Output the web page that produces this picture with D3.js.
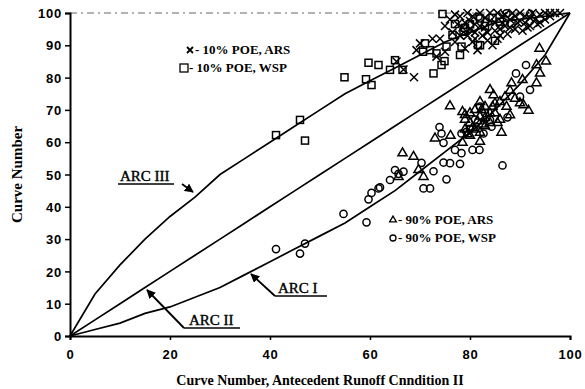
<!DOCTYPE html>
<html>
<head>
<meta charset="utf-8">
<script src="https://cdn.jsdelivr.net/npm/d3@7"></script>
<style>
  body { margin: 0; background: #fff; }
  svg { display: block; }
  .tick-label { font-family: "Liberation Sans", Arial, sans-serif; font-weight: bold; font-size: 13px; letter-spacing: 0.8px; }
  .serif { font-family: "Liberation Serif", "Times New Roman", serif; font-weight: bold; }
</style>
</head>
<body>
<div id="chart"></div>
<script>
// CN table (NEH-4): condition II -> condition I / III
const cnII  = [0, 5, 10, 15, 20, 25, 30, 35, 40, 45, 50, 55, 60, 65, 70, 75, 80, 85, 90, 95, 100];
const cnI   = [0, 2, 4, 7, 9, 12, 15, 19, 23, 27, 31, 35, 40, 45, 51, 57, 63, 70, 78, 87, 100];
const cnIII = [0, 13, 22, 30, 37, 43, 50, 55, 60, 65, 70, 75, 79, 83, 87, 91, 94, 97, 98, 99, 100];

const xTicks = [0, 20, 40, 60, 80, 100];
const yTicks = [0, 10, 20, 30, 40, 50, 60, 70, 80, 90, 100];

// 10% POE, ARS  (x markers)
const poe10ARS = [
  [65.3, 85], [66.7, 82.5], [68.8, 80.1], [70, 90.6], [69.3, 88.5], [73.3, 86.5], [74, 92], [75, 96],
  [76, 98], [77, 99.5], [78, 93], [79, 97], [80, 95], [80.5, 99], [81, 92], [82, 96], [83, 98.5],
  [83.5, 94], [84, 100], [85, 97], [86, 93], [86.5, 99], [87, 96], [88, 98], [88.5, 100], [89, 95],
  [90, 97.5], [91, 99], [92, 96], [92.5, 100], [93, 98], [94, 99.5], [95, 100], [96, 99], [97, 100],
  [79, 89], [81.5, 88.5], [84.5, 90], [77, 91], [87.5, 93.5], [90.5, 94.5], [94, 97], [82, 100],
  [85.5, 100], [75, 88], [72.5, 92], [78.5, 95.5], [80, 97.5], [83, 95.5], [86, 95], [89, 99], [91, 97],
  [76.5, 94], [77.5, 96.5], [79.5, 93], [80.5, 91], [81, 96.5], [82.5, 93], [84, 97.5], [85, 94.5],
  [86.5, 97], [87, 99.5], [88, 95.5], [89.5, 97], [90, 100], [91.5, 95.5], [92, 98.5], [93.5, 96.5],
  [95, 98], [96, 100], [98, 100], [78, 99], [79.5, 100], [81, 94], [83.5, 91.5], [85.5, 92]
];

// 10% POE, WSP  (squares)
const poe10WSP = [
  [41.2, 62.2], [46, 66.9], [47, 60.5], [54.9, 80.1], [59.2, 79.5], [60.3, 77.7], [59.7, 84.6],
  [61.7, 83.9], [64, 82.4], [65, 85.4], [66.5, 82.4], [70.6, 88], [71, 90.6], [72, 88.5], [72.7, 81.3],
  [73.3, 87.5], [74.3, 83.9], [74.9, 85.1], [74.5, 99.7], [75.3, 89.6], [76.5, 93.2], [77, 96.6],
  [78, 87], [78.3, 89.6], [78.7, 94.2], [79, 95.4], [81.6, 90.1], [82, 98.3], [82, 90], [85, 91.4],
  [86, 97.3], [88.3, 96.8], [80, 96.5], [83, 96], [84.5, 98.5]
];

// 90% POE, ARS  (triangles)
const poe90ARS = [
  [65.7, 49.3], [66.5, 56.6], [68.7, 55.5], [69.7, 51.4], [70.7, 49.3], [73, 61.2], [76, 71.2],
  [76.1, 62], [78.5, 69.4], [78.5, 59.9], [82, 60.2], [82, 72.5], [82.3, 70], [84, 76.2], [84.7, 74.6],
  [84, 68.9], [86, 72.5], [86.3, 63], [87.3, 71], [88, 68.4], [88.3, 78.3], [90, 72.1], [90.5, 79.3],
  [90.7, 71.5], [91.7, 69.8], [93.3, 78.3], [93.3, 83.9], [94, 81.3], [93.9, 89], [95.2, 85],
  [80, 66], [81, 64], [82, 68], [83, 65], [80, 62], [79, 64], [81, 70], [83, 71], [85, 69], [84, 66],
  [86, 67], [79, 67], [82, 63], [80, 69], [85, 72], [87, 74], [88, 76], [79, 68.5], [81.5, 66.5],
  [83, 67.5], [84.5, 71], [80.5, 64.5], [82.5, 65.5], [79.5, 62.5], [85.5, 66], [89, 73.5]
];

// 90% POE, WSP  (circles)
const poe90WSP = [
  [41.2, 26.9], [46, 25.5], [47, 28.6], [54.7, 37.8], [59.3, 35.2], [59.7, 42.3], [60.3, 44.3],
  [61.7, 45.7], [62, 46], [64, 48.3], [65, 51.4], [65.7, 50.2], [66.7, 50.9], [70.3, 53.6],
  [70.7, 45.7], [72, 45.7], [72.7, 51], [73.9, 64.7], [74.3, 62.7], [74.7, 59.8], [74.7, 53.7],
  [75.3, 48.5], [76, 53.5], [77, 57.6], [78, 53.3], [78.3, 62.7], [78.3, 56.6], [79.3, 63.2],
  [80.5, 57.6], [81.9, 57.6], [82.7, 62.7], [84, 66.9], [84.3, 64.8], [86.5, 52.8], [87.5, 67.7],
  [89.2, 81.3], [90, 74.1], [91.2, 83.9], [92, 76.2], [81.7, 98.9], [87.3, 99.9], [92, 99.7],
  [81, 67], [83, 69], [80, 64], [82, 71]
];

const width = 585, height = 389;
const margin = { top: 13, right: 15, bottom: 53, left: 70 };
const w = width - margin.left - margin.right;
const h = height - margin.top - margin.bottom;

const svg = d3.select('#chart').append('svg')
  .attr('width', width)
  .attr('height', height);

const g = svg.append('g')
  .attr('transform', `translate(${margin.left},${margin.top})`);

const x = d3.scaleLinear().domain([0, 100]).range([0, w]);
const y = d3.scaleLinear().domain([0, 100]).range([h, 0]);

// faint top frame (scan residue)
g.append('line')
  .attr('x1', x(0)).attr('x2', x(100)).attr('y1', y(100)).attr('y2', y(100))
  .attr('stroke', '#666').attr('stroke-width', 1).attr('stroke-dasharray', '7,4,2,4');

// axes
const xAxis = g.append('g')
  .attr('transform', `translate(0,${h})`)
  .call(d3.axisBottom(x).tickValues(xTicks).tickSize(4).tickPadding(10));
const yAxis = g.append('g')
  .call(d3.axisLeft(y).tickValues(yTicks).tickSize(5).tickPadding(3));

[xAxis, yAxis].forEach(a => {
  a.select('.domain').attr('stroke', '#000').attr('stroke-width', 2);
  a.selectAll('.tick line').attr('stroke', '#000').attr('stroke-width', 1.5);
  a.selectAll('.tick text').attr('class', 'tick-label').attr('fill', '#000');
});
yAxis.selectAll('.tick text').attr('dy', '0.36em');

// ARC curves
const line = d3.line().x(d => x(d[0])).y(d => y(d[1]));
const curves = [
  cnII.map((v, i) => [v, cnIII[i]]),
  cnII.map(v => [v, v]),
  cnII.map((v, i) => [v, cnI[i]])
];
g.selectAll('.arc')
  .data(curves)
  .enter()
  .append('path')
  .attr('class', 'arc')
  .attr('d', line)
  .attr('fill', 'none')
  .attr('stroke', '#000')
  .attr('stroke-width', 1.7);

// markers
const mk = g.append('g').attr('fill', 'none').attr('stroke', '#000').attr('stroke-width', 1.5);
const tri = d3.symbol().type(d3.symbolTriangle).size(36);

mk.selectAll('.sq').data(poe10WSP).enter().append('rect')
  .attr('x', d => x(d[0]) - 3.5).attr('y', d => y(d[1]) - 3.5)
  .attr('width', 7).attr('height', 7);

mk.selectAll('.cx').data(poe10ARS).enter().append('path')
  .attr('transform', d => `translate(${x(d[0])},${y(d[1])})`)
  .attr('d', 'M-4,-4L4,4M4,-4L-4,4');

mk.selectAll('.tr').data(poe90ARS).enter().append('path')
  .attr('transform', d => `translate(${x(d[0])},${y(d[1])})`)
  .attr('d', tri);

mk.selectAll('.ci').data(poe90WSP).enter().append('circle')
  .attr('cx', d => x(d[0])).attr('cy', d => y(d[1])).attr('r', 3.6);

// legends
const legend = [
  { px: 190, py: 54, sym: 'x', text: ' - 10% POE, ARS' },
  { px: 184, py: 72, sym: 'sq', text: ' - 10% POE, WSP' },
  { px: 393, py: 224, sym: 'tr', text: ' - 90% POE, ARS' },
  { px: 393, py: 242, sym: 'ci', text: ' - 90% POE, WSP' }
];
legend.forEach(l => {
  const cy = l.py - 4;
  if (l.sym === 'x') {
    svg.append('path').attr('d', `M${l.px - 3},${cy - 3}L${l.px + 3},${cy + 3}M${l.px + 3},${cy - 3}L${l.px - 3},${cy + 3}`)
      .attr('stroke', '#000').attr('stroke-width', 1.8);
  } else if (l.sym === 'sq') {
    svg.append('rect').attr('x', l.px - 4).attr('y', cy - 4).attr('width', 8).attr('height', 8)
      .attr('fill', 'none').attr('stroke', '#000').attr('stroke-width', 1.3);
  } else if (l.sym === 'tr') {
    svg.append('path').attr('transform', `translate(${l.px},${cy})`).attr('d', d3.symbol().type(d3.symbolTriangle).size(20))
      .attr('fill', 'none').attr('stroke', '#000').attr('stroke-width', 1.3);
  } else {
    svg.append('circle').attr('cx', l.px).attr('cy', cy).attr('r', 3)
      .attr('fill', 'none').attr('stroke', '#000').attr('stroke-width', 1.3);
  }
  svg.append('text').attr('class', 'serif').attr('x', l.px + 5).attr('y', l.py)
    .attr('font-size', 13).text(l.text);
});

// ARC labels with arrows
const arcLabels = [
  { text: 'ARC III', tx: 120, ty: 181, ux1: 118, ux2: 174, uy: 184, ax1: 182, ay1: 184, ax2: 193, ay2: 192 },
  { text: 'ARC II', tx: 189, ty: 325, ux1: 184, ux2: 240, uy: 328, ax1: 184, ay1: 328, ax2: 147, ay2: 290 },
  { text: 'ARC I', tx: 278, ty: 293, ux1: 275, ux2: 327, uy: 296, ax1: 275, ay1: 296, ax2: 251, ay2: 274 }
];
svg.append('defs').append('marker')
  .attr('id', 'arrow').attr('viewBox', '0 0 10 10').attr('refX', 9).attr('refY', 5)
  .attr('markerWidth', 5).attr('markerHeight', 5).attr('orient', 'auto')
  .append('path').attr('d', 'M0,0L10,5L0,10z').attr('fill', '#000');

arcLabels.forEach(a => {
  svg.append('text').attr('x', a.tx).attr('y', a.ty)
    .attr('font-family', '"Liberation Serif", "Times New Roman", serif')
    .attr('font-size', 15).attr('stroke', '#000').attr('stroke-width', 0.4).text(a.text);
  svg.append('line').attr('x1', a.ux1).attr('x2', a.ux2).attr('y1', a.uy).attr('y2', a.uy)
    .attr('stroke', '#000').attr('stroke-width', 1.3);
  svg.append('line').attr('x1', a.ax1).attr('y1', a.ay1).attr('x2', a.ax2).attr('y2', a.ay2)
    .attr('stroke', '#000').attr('stroke-width', 1.8).attr('marker-end', 'url(#arrow)');
});

// axis titles
svg.append('text').attr('class', 'serif')
  .attr('x', margin.left + w / 2).attr('y', 385)
  .attr('text-anchor', 'middle').attr('font-size', 14)
  .text('Curve Number, Antecedent Runoff Cnndition II');

svg.append('text').attr('class', 'serif')
  .attr('transform', `translate(22,${margin.top + h / 2}) rotate(-90)`)
  .attr('text-anchor', 'middle').attr('font-size', 15)
  .text('Curve Number');
</script>
</body>
</html>
